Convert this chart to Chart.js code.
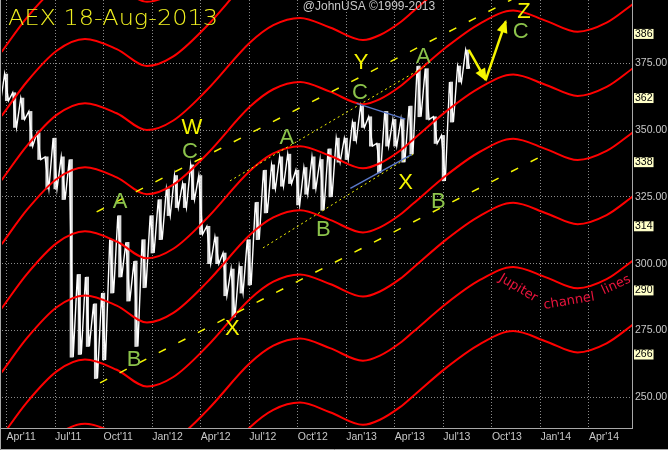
<!DOCTYPE html>
<html>
<head>
<meta charset="utf-8">
<script src="https://cdn.jsdelivr.net/npm/chart.js@4.4.0/dist/chart.umd.min.js"></script>
<style>
html, body { margin: 0; padding: 0; background: #000; }
#wrap { width: 668px; height: 450px; }
</style>
</head>
<body>
<div id="wrap"><canvas id="aex" width="668" height="450"></canvas></div>
<script>
// x axis is in months counted from 1 Apr 2011
var tickMonths = [0, 3, 6, 9, 12, 15, 18, 21, 24, 27, 30, 33, 36];
var tickLabels = ["Apr'11", "Jul'11", "Oct'11", "Jan'12", "Apr'12", "Jul'12", "Oct'12",
                  "Jan'13", "Apr'13", "Jul'13", "Oct'13", "Jan'14", "Apr'14"];
var priceTicks = [250, 266, 275, 290, 300, 314, 325, 338, 350, 362, 375, 386];
var boxedTicks = [266, 290, 314, 338, 362, 386];

// AEX, half-month high / low, first bucket is mid-March 2011
var priceFirstMonth = -0.5;
var priceHigh = [366, 371, 364, 362, 357, 349, 340, 347, 340, 339, 296, 295, 285, 289, 309, 318,
                 308, 301, 309, 318, 324, 328, 333, 330, 337, 333, 314, 310, 304, 298, 299, 309,
                 323, 335, 337, 340, 341, 335, 336, 340, 339, 343, 347, 347, 353, 359, 355, 345,
                 357, 354, 354, 359, 374, 373, 355, 348, 368, 374, 380];
var priceLow  = [360, 361, 351, 354, 344, 339, 328, 328, 324, 265, 266, 269, 257, 264, 289, 295,
                 286, 269, 291, 304, 309, 318, 321, 321, 324, 311, 300, 300, 288, 280, 289, 292,
                 309, 319, 328, 329, 330, 322, 326, 328, 320, 325, 338, 339, 346, 351, 344, 334,
                 344, 344, 338, 341, 355, 354, 345, 331, 353, 368, 373];

// one Jupiter channel line, the others are the same curve shifted by 24 points
var channelMonths = [-0.3, 1.27, 3.12, 4.85, 6.81, 8.68, 10.31, 12.37, 15.05, 16.49, 18.14, 19.99,
                     22.03, 23.08, 24.32, 25.14, 27.21, 29.26, 31.32, 33.39, 35.3, 37.09, 38.7];
var channelBase = [235.3, 248.2, 259.8, 264.1, 260.3, 254.0, 257.6, 268.9, 286.8, 293.3, 296.0, 292.4,
                   287.7, 289.6, 294.3, 298.5, 309.2, 317.9, 322.8, 318.8, 314.8, 318.2, 325.1];
var channelOffsets = [-48, -24, 0, 24, 48, 72, 96, 120, 144];

// trend lines drawn on the chart [month, value]
var lowerDashed = [[5.78, 255.4], [33.4, 341.3]];
var upperDashed = [[5.57, 319.4], [31.2, 398.8]];
var upperDotted = [[13.81, 331.0], [25.86, 373.9]];
var lowerDotted = [[15.85, 305.9], [25.25, 341.4]];
var blueUpper = [[21.64, 360.0], [24.65, 354.1]];
var blueLower = [[21.25, 328.2], [25.03, 340.8]];
var arrowDown = [[28.57, 380.0], [29.62, 368.8]];
var arrowUp = [[29.62, 368.8], [30.85, 390.6]];

// wave labels
var waveText = ['A', 'B', 'W', 'C', 'X', 'A', 'B', 'Y', 'C', 'X', 'A', 'B', 'Z', 'C'];
var waveMonths = [7.02, 7.88, 11.45, 11.34, 13.96, 17.32, 19.58, 21.91, 21.85, 24.67, 25.76, 26.69, 31.98, 31.78];
var waveValues = [323.2, 264.0, 350.7, 341.9, 275.4, 346.9, 312.6, 375.2, 364.0, 330.1, 377.5, 323.2, 394.3, 386.8];
var waveYellow = [false, false, true, false, true, false, false, true, false, true, false, false, true, false];

var noteWords = ['Jupiter', 'channel', 'lines'];
var noteMonths = [31.63, 34.77, 37.68];
var noteValues = [290.8, 285.9, 292.0];
var noteAngles = [31, -9.5, -25];

var GREEN = '#8cc34b';
var YELLOW = '#f5f500';

function pts(list) {
  return list.map(function (p) { return { x: p[0], y: p[1] }; });
}

var pricePoints = [];
var priceBars = [];
priceHigh.forEach(function (hi, k) {
  var m = priceFirstMonth + k * 0.5;
  pricePoints.push({ x: m - 0.12, y: hi }, { x: m + 0.12, y: priceLow[k] });
  priceBars.push({ x: m, y: [priceLow[k], hi] });
});

var channelSets = channelOffsets.map(function (off) {
  return {
    data: channelMonths.map(function (m, i) { return { x: m, y: channelBase[i] + off }; }),
    borderColor: '#ff0000',
    borderWidth: 2,
    pointRadius: 0,
    cubicInterpolationMode: 'monotone'
  };
});

function simpleLine(list, color, width, dash, extra) {
  var ds = {
    data: pts(list),
    borderColor: color,
    borderWidth: width,
    borderDash: dash,
    pointRadius: 0,
    tension: 0
  };
  if (extra) ds.arrow = true;
  return ds;
}

var datasets = [
  simpleLine(arrowDown, YELLOW, 2.5, [], true),
  simpleLine(arrowUp, YELLOW, 2.5, [], true),
  simpleLine(blueUpper, '#5a78c8', 1.5, []),
  simpleLine(blueLower, '#5a78c8', 1.5, []),
  simpleLine(upperDotted, YELLOW, 1, [2, 3]),
  simpleLine(lowerDotted, YELLOW, 1, [2, 3]),
  simpleLine(upperDashed, YELLOW, 1.5, [8, 14]),
  simpleLine(lowerDashed, YELLOW, 1.5, [8, 14])
].concat(channelSets).concat([{
  data: pricePoints,
  borderColor: '#ffffff',
  borderWidth: 1.4,
  pointRadius: 0,
  tension: 0
}, {
  type: 'bar',
  data: priceBars,
  backgroundColor: 'rgba(255,255,255,0.85)',
  borderWidth: 0,
  barThickness: 2.5,
  grouped: false
}]);

var background = {
  id: 'background',
  beforeDraw: function (chart) {
    var ctx = chart.ctx;
    ctx.save();
    ctx.fillStyle = '#000';
    ctx.fillRect(0, 0, chart.width, chart.height);
    ctx.restore();
  },
  afterDraw: function (chart) {
    var ctx = chart.ctx, a = chart.chartArea;
    ctx.save();
    ctx.strokeStyle = '#a8a8a8';
    ctx.lineWidth = 1;
    ctx.beginPath();
    ctx.moveTo(0.5, 0);
    ctx.lineTo(0.5, chart.height - 0.5);
    ctx.lineTo(chart.width, chart.height - 0.5);
    ctx.moveTo(0, a.bottom + 0.5);
    ctx.lineTo(a.right, a.bottom + 0.5);
    ctx.stroke();

    ctx.fillStyle = '#c8c8c8';
    ctx.font = '12px "Liberation Sans", Arial, sans-serif';
    ctx.textAlign = 'center';
    ctx.textBaseline = 'middle';
    ctx.fillText('@JohnUSA \u00a91999-2013', 369, 7);

    // hand-written style title
    ctx.fillStyle = '#f0f020';
    ctx.font = '200 22px "DejaVu Sans", sans-serif';
    ctx.textAlign = 'left';
    ctx.textBaseline = 'alphabetic';
    ctx.translate(8, 25);
    ctx.scale(1.09, 1);
    ctx.fillText('AEX 18-Aug-2013', 0, 0);
    ctx.restore();
  }
};

var annotations = {
  id: 'annotations',
  afterDatasetsDraw: function (chart) {
    var ctx = chart.ctx, x = chart.scales.x, y = chart.scales.y;
    ctx.save();

    // arrow heads
    chart.data.datasets.forEach(function (ds, i) {
      if (!ds.arrow) return;
      var pts = chart.getDatasetMeta(i).data;
      var p0 = pts[pts.length - 2], p1 = pts[pts.length - 1];
      var ang = Math.atan2(p1.y - p0.y, p1.x - p0.x);
      ctx.save();
      ctx.translate(p1.x, p1.y);
      ctx.rotate(ang);
      ctx.fillStyle = YELLOW;
      ctx.beginPath();
      ctx.moveTo(2, 0);
      ctx.lineTo(-11, -5.5);
      ctx.lineTo(-11, 5.5);
      ctx.closePath();
      ctx.fill();
      ctx.restore();
    });

    ctx.textAlign = 'center';
    ctx.textBaseline = 'middle';
    ctx.font = '22px "Liberation Sans", Arial, sans-serif';
    waveText.forEach(function (t, i) {
      ctx.fillStyle = waveYellow[i] ? YELLOW : GREEN;
      ctx.fillText(t, x.getPixelForValue(waveMonths[i]), y.getPixelForValue(waveValues[i]));
    });

    ctx.font = '13px "DejaVu Sans", sans-serif';
    ctx.fillStyle = '#e8143c';
    noteWords.forEach(function (w, i) {
      ctx.save();
      ctx.translate(x.getPixelForValue(noteMonths[i]), y.getPixelForValue(noteValues[i]));
      ctx.rotate(noteAngles[i] * Math.PI / 180);
      ctx.fillText(w, 0, 0);
      ctx.restore();
    });
    ctx.restore();
  }
};

new Chart(document.getElementById('aex'), {
  type: 'line',
  data: { datasets: datasets },
  options: {
    responsive: false,
    animation: false,
    events: [],
    layout: { padding: { left: 2, top: 0, right: 0, bottom: 0 } },
    plugins: { legend: { display: false }, tooltip: { enabled: false } },
    scales: {
      x: {
        type: 'linear',
        offset: false,
        min: -0.28,
        max: 38.66,
        afterBuildTicks: function (scale) {
          scale.ticks = tickMonths.map(function (v) { return { value: v }; });
        },
        afterFit: function (scale) {
          scale.height = 22;
          scale.paddingLeft = 0;
          scale.paddingRight = 0;
        },
        grid: { offset: false, color: '#8a8a8a', lineWidth: 1, drawTicks: false },
        border: { display: false, dash: [1, 2] },
        ticks: {
          autoSkip: false,
          maxRotation: 0,
          align: 'start',
          padding: 3,
          color: '#c8c8c8',
          font: { family: '"Liberation Sans", Arial, sans-serif', size: 10.5 },
          callback: function (value, index) { return tickLabels[index]; }
        }
      },
      y: {
        position: 'right',
        min: 238.5,
        max: 398.7,
        afterBuildTicks: function (scale) {
          scale.ticks = priceTicks.map(function (v) { return { value: v }; });
        },
        afterFit: function (scale) {
          scale.width = 36;
          scale.paddingTop = 0;
          scale.paddingBottom = 0;
        },
        grid: {
          drawTicks: false,
          lineWidth: 1,
          color: function (ctx) {
            return ctx.tick && boxedTicks.indexOf(ctx.tick.value) >= 0 ? 'rgba(0,0,0,0)' : '#8a8a8a';
          }
        },
        border: { display: true, color: '#a8a8a8', width: 1, dash: [1, 2] },
        ticks: {
          autoSkip: false,
          padding: 3,
          font: { family: '"Liberation Sans", Arial, sans-serif', size: 10.5, lineHeight: 0.95 },
          color: function (ctx) {
            return ctx.tick && boxedTicks.indexOf(ctx.tick.value) >= 0 ? '#000000' : '#c8c8c8';
          },
          showLabelBackdrop: function (ctx) {
            return !!(ctx.tick && boxedTicks.indexOf(ctx.tick.value) >= 0);
          },
          backdropColor: '#ffffc8',
          backdropPadding: { left: 1, right: 1, top: 0, bottom: 0 },
          callback: function (value) {
            return boxedTicks.indexOf(value) >= 0 ? String(value) : value.toFixed(2);
          }
        }
      }
    }
  },
  plugins: [background, annotations]
});
</script>
</body>
</html>
